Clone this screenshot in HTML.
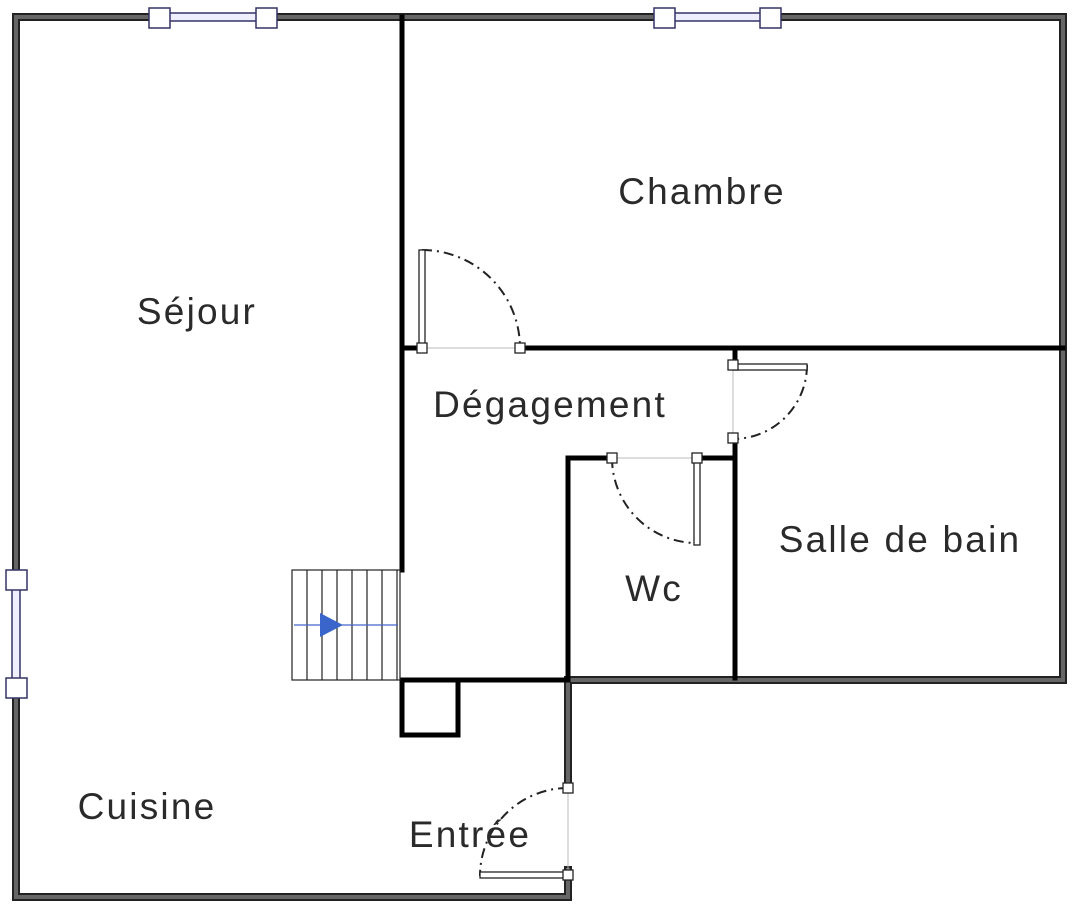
<!DOCTYPE html>
<html><head><meta charset="utf-8"><style>
html,body{margin:0;padding:0;background:#fff;}
svg{display:block}
text{font-family:"Liberation Sans",sans-serif;font-size:37px;letter-spacing:2.2px;fill:#2a2a2a;text-anchor:middle}
</style></head><body>
<svg width="1076" height="916" viewBox="0 0 1076 916" xmlns="http://www.w3.org/2000/svg">
<g stroke-linecap="square" fill="none">
<path d="M16 17 H1063 V680 H570 M16 17 V897 H568 V870 M568 788 V680" stroke="#222" stroke-width="8"/>
<path d="M16 17 H1063 V680 H570 M16 17 V897 H568 V870 M568 788 V680" stroke="#666" stroke-width="4"/>
<g stroke="#000" stroke-width="5">
<path d="M402 17 V570"/>
<path d="M402 348 H420"/>
<path d="M522 348 H1063"/>
<path d="M568 680 V458 H610"/>
<path d="M699 458 H735"/>
<path d="M735 348 V362 M735 440 V678"/>
<path d="M402 680 H568"/>
<path d="M402 680 V735 H458 V680"/>
</g>
</g>
<g stroke="#336" stroke-width="1.5" fill="#fff">
<rect x="162" y="13" width="96" height="8" fill="#eef"/>
<rect x="667" y="13" width="96" height="8" fill="#eef"/>
<rect x="12" y="588" width="8" height="92" fill="#eef"/>
<rect x="149" y="8" width="21" height="20"/>
<rect x="256" y="8" width="21" height="20"/>
<rect x="654" y="8" width="21" height="20"/>
<rect x="760" y="8" width="21" height="20"/>
<rect x="6" y="570" width="21" height="20"/>
<rect x="6" y="678" width="21" height="20"/>
</g>
<g stroke="#222" stroke-width="1.2" fill="none">
<rect x="292" y="570" width="108" height="110"/>
<path d="M307 570V680M322 570V680M337 570V680M352 570V680M367 570V680M382 570V680M397 570V680"/>
<path d="M294 625H398" stroke="#4466cc"/>
</g>
<polygon points="320,613 320,637 343,625" fill="#3a66cc"/>
<g stroke="#bbb" stroke-width="1" fill="none">
<path d="M422 348H520M733 365V438M612 458H697M568 788V877"/>
</g>
<g stroke="#222" stroke-width="2" fill="none" stroke-dasharray="10 5 2 5">
<path d="M422 250 A98 98 0 0 1 520 348"/>
<path d="M807 365 A74 74 0 0 1 733 439"/>
<path d="M612 458 A85 85 0 0 0 697 543"/>
<path d="M568 788 A88 88 0 0 0 480 876"/>
</g>
<g stroke="#222" stroke-width="1.3" fill="#fff">
<rect x="419" y="250" width="6" height="98"/>
<rect x="733" y="364" width="74" height="6"/>
<rect x="694" y="458" width="6" height="87"/>
<rect x="480" y="872" width="88" height="6"/>
<rect x="417" y="343" width="10" height="10"/>
<rect x="515" y="343" width="10" height="10"/>
<rect x="728" y="360" width="10" height="10"/>
<rect x="728" y="433" width="10" height="10"/>
<rect x="607" y="453" width="10" height="10"/>
<rect x="692" y="453" width="10" height="10"/>
<rect x="563" y="783" width="10" height="10"/>
<rect x="563" y="870" width="10" height="10"/>
</g>
<text x="702" y="204">Chambre</text>
<text x="197" y="324">Séjour</text>
<text x="550" y="417">Dégagement</text>
<text x="900" y="552">Salle de bain</text>
<text x="654" y="601">Wc</text>
<text x="147" y="819">Cuisine</text>
<text x="470" y="847">Entrée</text>
</svg>
</body></html>
